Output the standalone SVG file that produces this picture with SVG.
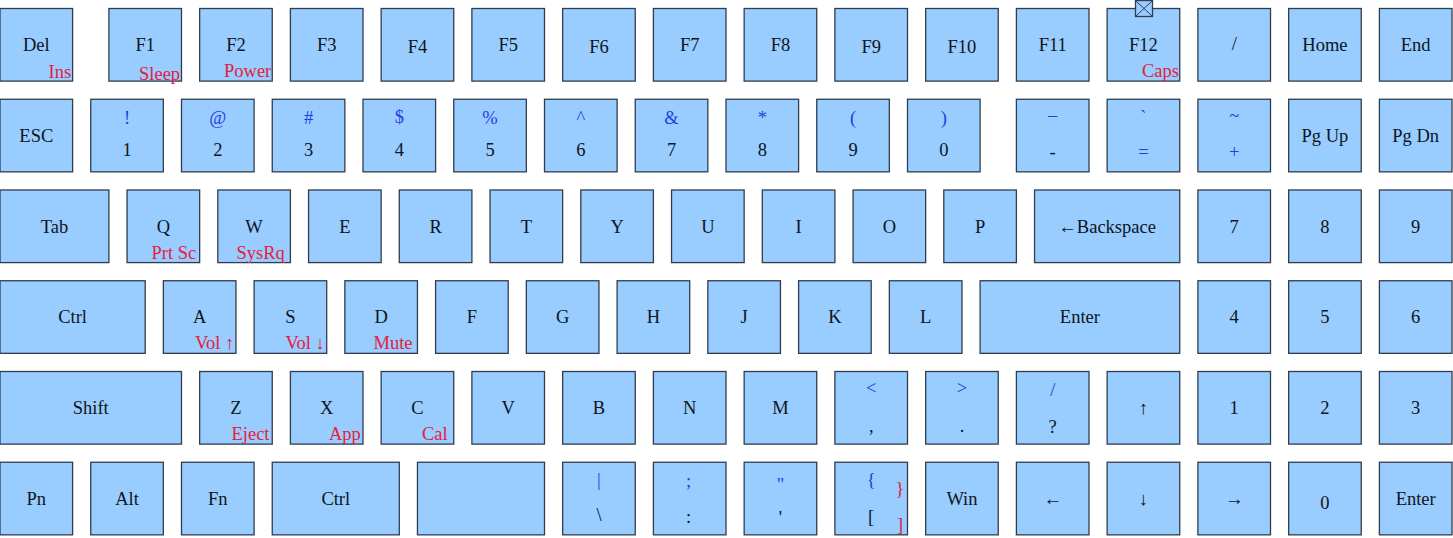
<svg xmlns="http://www.w3.org/2000/svg" width="1453" height="538" viewBox="0 0 1453 538">
<style>
.k{fill:#99ccff;stroke:#2f3e4e;stroke-width:1.3}
.t{font-family:"Liberation Serif","Times New Roman",serif;font-size:18.5px;fill:#0d1620;text-anchor:middle}
.b{fill:#1f3fe0}
.r{fill:#e5203a;text-anchor:start}
.rc{fill:#e5203a}
.x{fill:none;stroke:#2f3e4e;stroke-width:1}
</style>
<rect width="1453" height="538" fill="#ffffff"/>
<g id="connectors"></g>
<!-- Row 1 -->
<g id="key-del"><rect class="k" x="0" y="8.5" width="72.6" height="72.6"/><text class="t" x="36.3" y="51">Del</text><text class="t r" x="48.5" y="77.5">Ins</text></g>
<g id="key-f1"><rect class="k" x="108.9" y="8.5" width="72.6" height="72.6"/><text class="t" x="145.2" y="51">F1</text><text class="t r" x="139" y="80">Sleep</text></g>
<g id="key-f2"><rect class="k" x="199.65" y="8.5" width="72.6" height="72.6"/><text class="t" x="235.95" y="51">F2</text><text class="t r" x="224" y="77">Power</text></g>
<g id="key-f3"><rect class="k" x="290.4" y="8.5" width="72.6" height="72.6"/><text class="t" x="326.7" y="51">F3</text></g>
<g id="key-f4"><rect class="k" x="381.15" y="8.5" width="72.6" height="72.6"/><text class="t" x="417.45" y="52.5">F4</text></g>
<g id="key-f5"><rect class="k" x="471.9" y="8.5" width="72.6" height="72.6"/><text class="t" x="508.2" y="51">F5</text></g>
<g id="key-f6"><rect class="k" x="562.65" y="8.5" width="72.6" height="72.6"/><text class="t" x="598.95" y="52.5">F6</text></g>
<g id="key-f7"><rect class="k" x="653.4" y="8.5" width="72.6" height="72.6"/><text class="t" x="689.7" y="51">F7</text></g>
<g id="key-f8"><rect class="k" x="744.15" y="8.5" width="72.6" height="72.6"/><text class="t" x="780.45" y="51">F8</text></g>
<g id="key-f9"><rect class="k" x="834.9" y="8.5" width="72.6" height="72.6"/><text class="t" x="871.2" y="52.5">F9</text></g>
<g id="key-f10"><rect class="k" x="925.65" y="8.5" width="72.6" height="72.6"/><text class="t" x="961.95" y="52.5">F10</text></g>
<g id="key-f11"><rect class="k" x="1016.4" y="8.5" width="72.6" height="72.6"/><text class="t" x="1052.7" y="51">F11</text></g>
<g id="key-f12"><rect class="k" x="1107.15" y="8.5" width="72.6" height="72.6"/><rect class="k" x="1135.5" y="0.5" width="17" height="16" stroke-width="1"/><path class="x" d="M1135.5 0.5L1152.5 16.5M1152.5 0.5L1135.5 16.5"/><text class="t" x="1143.45" y="51">F12</text><text class="t r" x="1142" y="76.5">Caps</text></g>
<g id="key-slash"><rect class="k" x="1197.9" y="8.5" width="72.6" height="72.6"/><text class="t" x="1234.2" y="50">/</text></g>
<g id="key-home"><rect class="k" x="1288.65" y="8.5" width="72.6" height="72.6"/><text class="t" x="1324.95" y="51">Home</text></g>
<g id="key-end"><rect class="k" x="1379.4" y="8.5" width="72.6" height="72.6"/><text class="t" x="1415.7" y="51">End</text></g>
<!-- Row 2 -->
<g id="key-esc"><rect class="k" x="0" y="99.25" width="72.6" height="72.6"/><text class="t" x="36.3" y="141.75">ESC</text></g>
<g id="key-1"><rect class="k" x="90.75" y="99.25" width="72.6" height="72.6"/><text class="t b" x="127.05" y="124">!</text><text class="t" x="127.05" y="155.5">1</text></g>
<g id="key-2"><rect class="k" x="181.5" y="99.25" width="72.6" height="72.6"/><text class="t b" x="217.8" y="124">@</text><text class="t" x="217.8" y="155.5">2</text></g>
<g id="key-3"><rect class="k" x="272.25" y="99.25" width="72.6" height="72.6"/><text class="t b" x="308.55" y="124">#</text><text class="t" x="308.55" y="155.5">3</text></g>
<g id="key-4"><rect class="k" x="363" y="99.25" width="72.6" height="72.6"/><text class="t b" x="399.3" y="123">$</text><text class="t" x="399.3" y="155.5">4</text></g>
<g id="key-5"><rect class="k" x="453.75" y="99.25" width="72.6" height="72.6"/><text class="t b" x="490.05" y="124">%</text><text class="t" x="490.05" y="155.5">5</text></g>
<g id="key-6"><rect class="k" x="544.5" y="99.25" width="72.6" height="72.6"/><text class="t b" x="580.8" y="124">^</text><text class="t" x="580.8" y="155.5">6</text></g>
<g id="key-7"><rect class="k" x="635.25" y="99.25" width="72.6" height="72.6"/><text class="t b" x="671.55" y="124">&amp;</text><text class="t" x="671.55" y="155.5">7</text></g>
<g id="key-8"><rect class="k" x="726" y="99.25" width="72.6" height="72.6"/><text class="t b" x="762.3" y="124">*</text><text class="t" x="762.3" y="155.5">8</text></g>
<g id="key-9"><rect class="k" x="816.75" y="99.25" width="72.6" height="72.6"/><text class="t b" x="853.05" y="124">(</text><text class="t" x="853.05" y="155.5">9</text></g>
<g id="key-0"><rect class="k" x="907.5" y="99.25" width="72.6" height="72.6"/><text class="t b" x="943.8" y="124">)</text><text class="t" x="943.8" y="155.5">0</text></g>
<g id="key-minus"><rect class="k" x="1016.4" y="99.25" width="72.6" height="72.6"/><text class="t b" x="1052.7" y="121">–</text><text class="t" x="1052.7" y="157.5">-</text></g>
<g id="key-equals"><rect class="k" x="1107.15" y="99.25" width="72.6" height="72.6"/><text class="t b" x="1143.45" y="123">`</text><text class="t b" x="1143.45" y="157.5">=</text></g>
<g id="key-plus"><rect class="k" x="1197.9" y="99.25" width="72.6" height="72.6"/><text class="t b" x="1234.2" y="121.5">~</text><text class="t b" x="1234.2" y="158">+</text></g>
<g id="key-pgup"><rect class="k" x="1288.65" y="99.25" width="72.6" height="72.6"/><text class="t" x="1324.95" y="141.75">Pg Up</text></g>
<g id="key-pgdn"><rect class="k" x="1379.4" y="99.25" width="72.6" height="72.6"/><text class="t" x="1415.7" y="141.75">Pg Dn</text></g>
<!-- Row 3 -->
<g id="key-tab"><rect class="k" x="0" y="190" width="108.9" height="72.6"/><text class="t" x="54.45" y="232.5">Tab</text></g>
<g id="key-q"><rect class="k" x="127.05" y="190" width="72.6" height="72.6"/><text class="t" x="163.35" y="232.5">Q</text><text class="t r" x="151.5" y="259">Prt Sc</text></g>
<g id="key-w"><rect class="k" x="217.8" y="190" width="72.6" height="72.6"/><text class="t" x="254.1" y="232.5">W</text><text class="t r" x="236.5" y="259">SysRq</text></g>
<g id="key-e"><rect class="k" x="308.55" y="190" width="72.6" height="72.6"/><text class="t" x="344.85" y="232.5">E</text></g>
<g id="key-r"><rect class="k" x="399.3" y="190" width="72.6" height="72.6"/><text class="t" x="435.6" y="232.5">R</text></g>
<g id="key-t"><rect class="k" x="490.05" y="190" width="72.6" height="72.6"/><text class="t" x="526.35" y="232.5">T</text></g>
<g id="key-y"><rect class="k" x="580.8" y="190" width="72.6" height="72.6"/><text class="t" x="617.1" y="232.5">Y</text></g>
<g id="key-u"><rect class="k" x="671.55" y="190" width="72.6" height="72.6"/><text class="t" x="707.85" y="232.5">U</text></g>
<g id="key-i"><rect class="k" x="762.3" y="190" width="72.6" height="72.6"/><text class="t" x="798.6" y="232.5">I</text></g>
<g id="key-o"><rect class="k" x="853.05" y="190" width="72.6" height="72.6"/><text class="t" x="889.35" y="232.5">O</text></g>
<g id="key-p"><rect class="k" x="943.8" y="190" width="72.6" height="72.6"/><text class="t" x="980.1" y="232.5">P</text></g>
<g id="key-backspace"><rect class="k" x="1034.55" y="190" width="145.2" height="72.6"/><text class="t" x="1107.15" y="232.5">←Backspace</text></g>
<g id="key-num7"><rect class="k" x="1197.9" y="190" width="72.6" height="72.6"/><text class="t" x="1234.2" y="232.5">7</text></g>
<g id="key-num8"><rect class="k" x="1288.65" y="190" width="72.6" height="72.6"/><text class="t" x="1324.95" y="232.5">8</text></g>
<g id="key-num9"><rect class="k" x="1379.4" y="190" width="72.6" height="72.6"/><text class="t" x="1415.7" y="232.5">9</text></g>
<!-- Row 4 -->
<g id="key-ctrl-left"><rect class="k" x="0" y="280.75" width="145.2" height="72.6"/><text class="t" x="72.6" y="323.25">Ctrl</text></g>
<g id="key-a"><rect class="k" x="163.35" y="280.75" width="72.6" height="72.6"/><text class="t" x="199.65" y="323.25">A</text><text class="t r" x="195" y="349">Vol ↑</text></g>
<g id="key-s"><rect class="k" x="254.1" y="280.75" width="72.6" height="72.6"/><text class="t" x="290.4" y="323.25">S</text><text class="t r" x="285.5" y="349">Vol ↓</text></g>
<g id="key-d"><rect class="k" x="344.85" y="280.75" width="72.6" height="72.6"/><text class="t" x="381.15" y="323.25">D</text><text class="t r" x="373.5" y="349">Mute</text></g>
<g id="key-f"><rect class="k" x="435.6" y="280.75" width="72.6" height="72.6"/><text class="t" x="471.9" y="323.25">F</text></g>
<g id="key-g"><rect class="k" x="526.35" y="280.75" width="72.6" height="72.6"/><text class="t" x="562.65" y="323.25">G</text></g>
<g id="key-h"><rect class="k" x="617.1" y="280.75" width="72.6" height="72.6"/><text class="t" x="653.4" y="323.25">H</text></g>
<g id="key-j"><rect class="k" x="707.85" y="280.75" width="72.6" height="72.6"/><text class="t" x="744.15" y="323.25">J</text></g>
<g id="key-k"><rect class="k" x="798.6" y="280.75" width="72.6" height="72.6"/><text class="t" x="834.9" y="323.25">K</text></g>
<g id="key-l"><rect class="k" x="889.35" y="280.75" width="72.6" height="72.6"/><text class="t" x="925.65" y="323.25">L</text></g>
<g id="key-enter"><rect class="k" x="980.1" y="280.75" width="199.65" height="72.6"/><text class="t" x="1079.9" y="323.25">Enter</text></g>
<g id="key-num4"><rect class="k" x="1197.9" y="280.75" width="72.6" height="72.6"/><text class="t" x="1234.2" y="323.25">4</text></g>
<g id="key-num5"><rect class="k" x="1288.65" y="280.75" width="72.6" height="72.6"/><text class="t" x="1324.95" y="323.25">5</text></g>
<g id="key-num6"><rect class="k" x="1379.4" y="280.75" width="72.6" height="72.6"/><text class="t" x="1415.7" y="323.25">6</text></g>
<!-- Row 5 -->
<g id="key-shift"><rect class="k" x="0" y="371.5" width="181.5" height="72.6"/><text class="t" x="90.75" y="414">Shift</text></g>
<g id="key-z"><rect class="k" x="199.65" y="371.5" width="72.6" height="72.6"/><text class="t" x="235.95" y="414">Z</text><text class="t r" x="231.5" y="440">Eject</text></g>
<g id="key-x"><rect class="k" x="290.4" y="371.5" width="72.6" height="72.6"/><text class="t" x="326.7" y="414">X</text><text class="t r" x="329" y="440">App</text></g>
<g id="key-c"><rect class="k" x="381.15" y="371.5" width="72.6" height="72.6"/><text class="t" x="417.45" y="414">C</text><text class="t r" x="422" y="440">Cal</text></g>
<g id="key-v"><rect class="k" x="471.9" y="371.5" width="72.6" height="72.6"/><text class="t" x="508.2" y="414">V</text></g>
<g id="key-b"><rect class="k" x="562.65" y="371.5" width="72.6" height="72.6"/><text class="t" x="598.95" y="414">B</text></g>
<g id="key-n"><rect class="k" x="653.4" y="371.5" width="72.6" height="72.6"/><text class="t" x="689.7" y="414">N</text></g>
<g id="key-m"><rect class="k" x="744.15" y="371.5" width="72.6" height="72.6"/><text class="t" x="780.45" y="414">M</text></g>
<g id="key-comma"><rect class="k" x="834.9" y="371.5" width="72.6" height="72.6"/><text class="t b" x="871.2" y="393.5">&lt;</text><text class="t" x="871.2" y="431.5">,</text></g>
<g id="key-period"><rect class="k" x="925.65" y="371.5" width="72.6" height="72.6"/><text class="t b" x="961.95" y="393.5">&gt;</text><text class="t" x="961.95" y="432">.</text></g>
<g id="key-question"><rect class="k" x="1016.4" y="371.5" width="72.6" height="72.6"/><text class="t b" x="1052.7" y="396">/</text><text class="t" x="1052.7" y="433">?</text></g>
<g id="key-up"><rect class="k" x="1107.15" y="371.5" width="72.6" height="72.6"/><text class="t" x="1143.45" y="414">↑</text></g>
<g id="key-num1"><rect class="k" x="1197.9" y="371.5" width="72.6" height="72.6"/><text class="t" x="1234.2" y="414">1</text></g>
<g id="key-num2"><rect class="k" x="1288.65" y="371.5" width="72.6" height="72.6"/><text class="t" x="1324.95" y="414">2</text></g>
<g id="key-num3"><rect class="k" x="1379.4" y="371.5" width="72.6" height="72.6"/><text class="t" x="1415.7" y="414">3</text></g>
<!-- Row 6 -->
<g id="key-pn"><rect class="k" x="0" y="462.25" width="72.6" height="72.6"/><text class="t" x="36.3" y="504.75">Pn</text></g>
<g id="key-alt"><rect class="k" x="90.75" y="462.25" width="72.6" height="72.6"/><text class="t" x="127.05" y="504.75">Alt</text></g>
<g id="key-fn"><rect class="k" x="181.5" y="462.25" width="72.6" height="72.6"/><text class="t" x="217.8" y="504.75">Fn</text></g>
<g id="key-ctrl-right"><rect class="k" x="272.25" y="462.25" width="127.05" height="72.6"/><text class="t" x="335.78" y="504.75">Ctrl</text></g>
<g id="key-space"><rect class="k" x="417.45" y="462.25" width="127.05" height="72.6"/></g>
<g id="key-backslash"><rect class="k" x="562.65" y="462.25" width="72.6" height="72.6"/><text class="t b" x="598.95" y="486">|</text><text class="t" x="598.95" y="521">\</text></g>
<g id="key-semicolon"><rect class="k" x="653.4" y="462.25" width="72.6" height="72.6"/><text class="t b" x="688.5" y="486.5">;</text><text class="t" x="688.5" y="523">:</text></g>
<g id="key-quote"><rect class="k" x="744.15" y="462.25" width="72.6" height="72.6"/><text class="t b" x="780.45" y="491">"</text><text class="t" x="780.45" y="523.5">'</text></g>
<g id="key-bracket"><rect class="k" x="834.9" y="462.25" width="72.6" height="72.6"/><text class="t b" x="871.2" y="486">{</text><text class="t" x="871.2" y="523">[</text><text class="t rc" x="900" y="494.5">}</text><text class="t rc" x="900" y="531">]</text></g>
<g id="key-win"><rect class="k" x="925.65" y="462.25" width="72.6" height="72.6"/><text class="t" x="961.95" y="504.75">Win</text></g>
<g id="key-left"><rect class="k" x="1016.4" y="462.25" width="72.6" height="72.6"/><text class="t" x="1052.7" y="504.75">←</text></g>
<g id="key-down"><rect class="k" x="1107.15" y="462.25" width="72.6" height="72.6"/><text class="t" x="1143.45" y="504.75">↓</text></g>
<g id="key-right"><rect class="k" x="1197.9" y="462.25" width="72.6" height="72.6"/><text class="t" x="1234.2" y="504.75">→</text></g>
<g id="key-num0"><rect class="k" x="1288.65" y="462.25" width="72.6" height="72.6"/><text class="t" x="1324.95" y="508.5">0</text></g>
<g id="key-num-enter"><rect class="k" x="1379.4" y="462.25" width="72.6" height="72.6"/><text class="t" x="1415.7" y="504.75">Enter</text></g>
</svg>
